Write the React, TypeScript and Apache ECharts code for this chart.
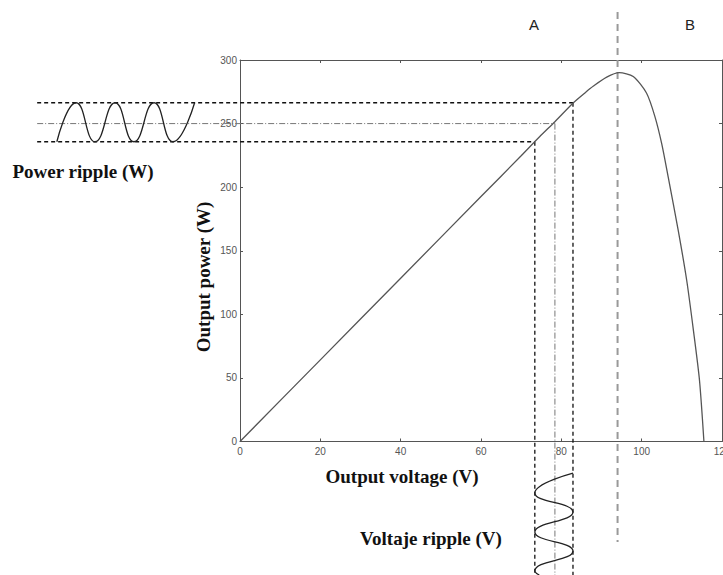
import React, { useEffect, useRef } from "react";
import * as echarts from "echarts";

// P-V curve
const voltage = [0, 20, 40, 60, 70, 74.7, 78.4, 83, 86, 88, 91.3, 94.4, 97.9, 101.2, 103.3, 105, 106.6, 109.1, 111.2, 112.9, 114.4, 115.5];
const power = [0, 64.2, 128.4, 192.6, 224.7, 240, 251.5, 266.4, 274.5, 279.5, 286.5, 290, 287, 274, 255.5, 234, 208, 166, 127, 87, 48, 0];

const xTicks = [0, 20, 40, 60, 80, 100, 120];
const yTicks = [0, 50, 100, 150, 200, 250, 300];

// ripple levels
const powerHigh = 266.4;
const powerMid = 250;
const powerLow = 235.7;
const voltLow = 73.4;
const voltMid = 78.4;
const voltHigh = 82.9;
const mppVoltage = 94;

// power ripple wave (time axis drawn to the left, in voltage units of the overlay)
const powerRippleX = [-45.6, -40.8, -36.1, -31.1, -26.4, -21.4, -16.7, -11.3];
const powerRippleY = [powerLow, powerHigh, powerLow, powerHigh, powerLow, powerHigh, powerLow, powerHigh];

// voltage ripple wave (time axis drawn below, in power units of the overlay)
const voltRippleX = [voltHigh, voltLow, voltHigh, voltLow, voltHigh, voltLow, 74.5];
const voltRippleY = [-24.8, -40.5, -55.4, -71.2, -86.1, -101.8, -105];

const guideStart = -50.5; // left end of horizontal guides
const guideBottom = -105; // bottom end of vertical guides
const mppTop = 337.7;
const mppBottom = -79;

export default function App() {
  const ref = useRef<HTMLDivElement>(null);
  useEffect(() => {
    if (!ref.current) return;
    const chart = echarts.init(ref.current, undefined, { renderer: "svg" });

    const mainLeft = 240, mainTop = 60, mainW = 482, mainH = 381.5;
    const xMax = 120, yMax = 300;
    const kx = mainW / xMax, ky = mainH / yMax;
    const ovXMin = -59.5, ovXMax = 120, ovYMin = -105, ovYMax = 345;
    const ovLeft = mainLeft + ovXMin * kx;
    const ovTop = mainTop - (ovYMax - yMax) * ky;
    const ovW = (ovXMax - ovXMin) * kx;
    const ovH = (ovYMax - ovYMin) * ky;

    const axisColor = "#555";
    const labelStyle = { color: "#555", fontFamily: "Liberation Sans", fontSize: 10 };
    const dashed = { color: "#111", width: 1.3, type: [4, 3] as any };
    const dashDot = { color: "#777", width: 1, type: [6, 2, 1, 2] as any };
    const tick = { show: true, inside: true, length: 3, lineStyle: { color: axisColor } };
    const line = { show: true, onZero: false, lineStyle: { color: axisColor, width: 1 } };

    const curve = voltage.map((v, i) => [v, power[i]]);

    chart.setOption({
      animation: false,
      backgroundColor: "#fff",
      grid: [
        { left: mainLeft, top: mainTop, width: mainW, height: mainH, outerBoundsMode: "none", containLabel: false },
        { left: ovLeft, top: ovTop, width: ovW, height: ovH, outerBoundsMode: "none", containLabel: false },
      ],
      xAxis: [
        {
          gridIndex: 0, type: "value", min: 0, max: xMax, interval: 20, position: "bottom",
          axisLine: line,
          axisTick: tick,
          axisLabel: { ...labelStyle, margin: 5, formatter: (v: number) => (xTicks.includes(v) ? String(v) : "") },
          splitLine: { show: false },
        },
        {
          gridIndex: 0, type: "value", min: 0, max: xMax, interval: 20, position: "top",
          axisLine: line,
          axisTick: tick,
          axisLabel: { show: false },
          splitLine: { show: false },
        },
        { gridIndex: 1, type: "value", min: ovXMin, max: ovXMax, show: false },
      ],
      yAxis: [
        {
          gridIndex: 0, type: "value", min: 0, max: yMax, interval: 50, position: "left",
          axisLine: line,
          axisTick: tick,
          axisLabel: { ...labelStyle, margin: 3, formatter: (v: number) => (yTicks.includes(v) ? String(v) : "") },
          splitLine: { show: false },
        },
        {
          gridIndex: 0, type: "value", min: 0, max: yMax, interval: 50, position: "right",
          axisLine: line,
          axisTick: tick,
          axisLabel: { show: false },
          splitLine: { show: false },
        },
        { gridIndex: 1, type: "value", min: ovYMin, max: ovYMax, show: false },
      ],
      series: [
        {
          type: "line", xAxisIndex: 0, yAxisIndex: 0, data: curve, smooth: 0.25, showSymbol: false,
          lineStyle: { color: "#555", width: 1.3 }, z: 5,
        },
        // horizontal guides
        { type: "line", xAxisIndex: 2, yAxisIndex: 2, data: [[guideStart, powerHigh], [voltHigh, powerHigh]], showSymbol: false, lineStyle: dashed },
        { type: "line", xAxisIndex: 2, yAxisIndex: 2, data: [[guideStart, powerMid], [voltMid, powerMid]], showSymbol: false, lineStyle: dashDot },
        { type: "line", xAxisIndex: 2, yAxisIndex: 2, data: [[guideStart, powerLow], [voltLow, powerLow]], showSymbol: false, lineStyle: dashed },
        // vertical guides
        { type: "line", xAxisIndex: 2, yAxisIndex: 2, data: [[voltHigh, powerHigh], [voltHigh, guideBottom]], showSymbol: false, lineStyle: dashed },
        { type: "line", xAxisIndex: 2, yAxisIndex: 2, data: [[voltMid, powerMid], [voltMid, guideBottom]], showSymbol: false, lineStyle: dashDot },
        { type: "line", xAxisIndex: 2, yAxisIndex: 2, data: [[voltLow, powerLow], [voltLow, guideBottom]], showSymbol: false, lineStyle: dashed },
        // MPP boundary A | B
        { type: "line", xAxisIndex: 2, yAxisIndex: 2, data: [[mppVoltage, mppTop], [mppVoltage, mppBottom]], showSymbol: false, lineStyle: { color: "#999", width: 2, type: [7, 5] } },
        // ripples
        {
          type: "line", xAxisIndex: 2, yAxisIndex: 2, data: powerRippleX.map((x, i) => [x, powerRippleY[i]]),
          smooth: true, showSymbol: false, lineStyle: { color: "#222", width: 1.3 },
        },
        {
          type: "line", xAxisIndex: 2, yAxisIndex: 2, data: voltRippleX.map((x, i) => [x, voltRippleY[i]]),
          smooth: true, showSymbol: false, lineStyle: { color: "#222", width: 1.3 },
        },
      ],
      graphic: [
        { type: "text", x: 83, y: 171, style: { text: "Power ripple (W)", font: "bold 19px 'Liberation Serif'", fill: "#111", textAlign: "center", textVerticalAlign: "middle" } },
        { type: "text", x: 402, y: 476, style: { text: "Output voltage (V)", font: "bold 19px 'Liberation Serif'", fill: "#111", textAlign: "center", textVerticalAlign: "middle" } },
        { type: "text", x: 431, y: 538, style: { text: "Voltaje ripple (V)", font: "bold 19px 'Liberation Serif'", fill: "#111", textAlign: "center", textVerticalAlign: "middle" } },
        { type: "text", x: 203, y: 277, rotation: Math.PI / 2, style: { text: "Output power (W)", font: "bold 19px 'Liberation Serif'", fill: "#111", textAlign: "center", textVerticalAlign: "middle" } },
        { type: "text", x: 534, y: 24, style: { text: "A", font: "15px 'Liberation Sans'", fill: "#222", textAlign: "center", textVerticalAlign: "middle" } },
        { type: "text", x: 690, y: 24, style: { text: "B", font: "15px 'Liberation Sans'", fill: "#222", textAlign: "center", textVerticalAlign: "middle" } },
      ],
    });
    return () => chart.dispose();
  }, []);
  return <div ref={ref} style={{ width: 723, height: 575, position: "absolute", left: 0, top: 0 }} />;
}
